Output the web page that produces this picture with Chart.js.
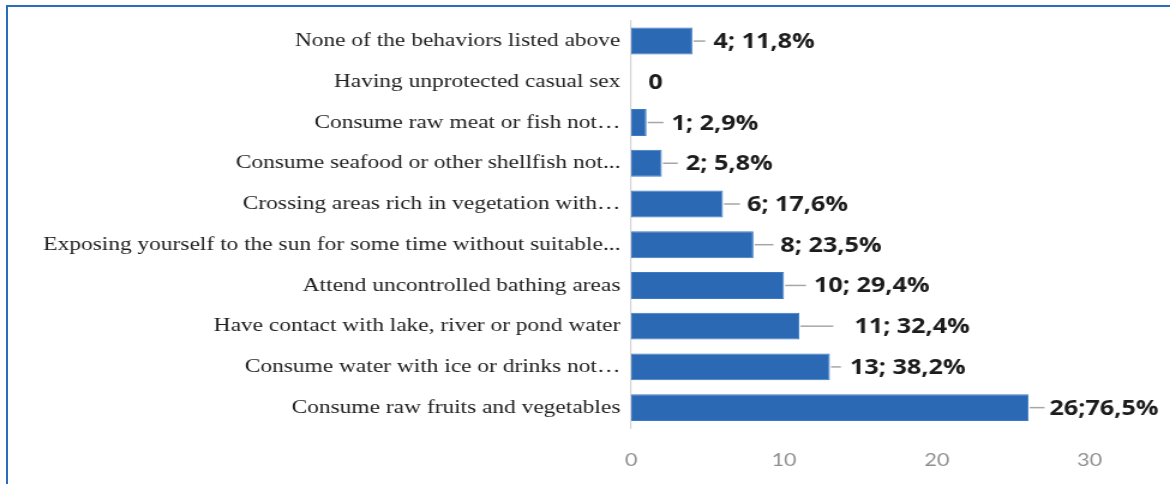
<!DOCTYPE html>
<html>
<head>
<meta charset="utf-8">
<script src="https://cdn.jsdelivr.net/npm/chart.js@4"></script>
<style>
  html, body { margin: 0; padding: 0; background: #fff; }
  #wrap { position: relative; width: 1170px; height: 484px; overflow: hidden; }
  #frame {
    position: absolute; left: 6px; top: 5px; right: 0; bottom: 0;
    border-top: 2px solid #2a6db8; border-left: 2px solid #2a6db8;
    pointer-events: none;
  }
  canvas { position: absolute; left: 0; top: 0; }
</style>
</head>
<body>
<div id="wrap">
  <!-- drawn at 975px wide and shown at 1170px, so the text comes out wide -->
  <canvas id="myChart" width="975" height="484" style="width:1170px;height:484px"></canvas>
  <div id="frame"></div>
</div>
<script>
const categories = [
    'None of the behaviors listed above',
    'Having unprotected casual sex',
    'Consume raw meat or fish not\u2026',
    'Consume seafood or other shellfish not...',
    'Crossing areas rich in vegetation with\u2026',
    'Exposing yourself to the sun for some time without suitable...',
    'Attend uncontrolled bathing areas',
    'Have contact with lake, river or pond water',
    'Consume water with ice or drinks not\u2026',
    'Consume raw fruits and vegetables'
];
const counts = [4, 0, 1, 2, 6, 8, 10, 11, 13, 26];
const valueLabels = ['4; 11,8%', '0', '1; 2,9%', '2; 5,8%', '6; 17,6%', '8; 23,5%',
                     '10; 29,4%', '11; 32,4%', '13; 38,2%', '26;76,5%'];
const tickValues = [0, 10, 20, 30];

const STRETCH = 1170 / 975;

// leader line length and label offset, in screen px from the end of each bar
const leaderLen = [13, 0, 17, 16, 17, 20, 22, 34, 11, 16];
const labelGap  = [21, 17, 25, 24, 24, 27, 30, 55, 20, 21];

const valueLabelPlugin = {
    id: 'valueLabels',
    afterDatasetsDraw(chart) {
        const c = chart.ctx;
        const bars = chart.getDatasetMeta(0).data;
        c.save();
        bars.forEach((bar, i) => {
            const xEnd = bar.x, y = bar.y;
            if (leaderLen[i] > 0) {
                c.strokeStyle = '#a6a6a6';
                c.lineWidth = 1.5;
                c.beginPath();
                c.moveTo(xEnd + 1, y);
                c.lineTo(xEnd + leaderLen[i] / STRETCH, y);
                c.stroke();
            }
            c.fillStyle = '#1c1c1c';
            c.font = 'bold 21px "Open Sans"';
            c.textAlign = 'left';
            c.textBaseline = 'middle';
            c.fillText(valueLabels[i], xEnd + labelGap[i] / STRETCH, y + 1);
        });
        c.restore();
    }
};

const ctx = document.getElementById('myChart').getContext('2d');
const myChart = new Chart(ctx, {
    type: 'bar',
    data: {
        labels: categories,
        datasets: [{
            data: counts,
            backgroundColor: '#2b69b4',
            borderColor: '#3d7cc4',
            borderWidth: 1,
            borderSkipped: false,
            barPercentage: 0.66,
            categoryPercentage: 1
        }]
    },
    options: {
        indexAxis: 'y',
        responsive: false,
        animation: false,
        events: [],
        layout: {
            padding: { top: 20, right: 67, left: 0, bottom: 0 }
        },
        scales: {
            x: {
                min: 0,
                max: 30,
                afterBuildTicks(scale) {
                    scale.ticks = tickValues.map(v => ({ value: v }));
                },
                afterFit(scale) { scale.height = 56; },
                grid: { display: false, drawTicks: false },
                border: { display: false },
                ticks: {
                    padding: 21,
                    color: '#909090',
                    font: { family: 'Lato', size: 18 }
                }
            },
            y: {
                afterFit(scale) { scale.width = 526; },
                grid: { display: false, drawTicks: false },
                border: { display: true, color: '#d4d4d4', width: 1.2 },
                ticks: {
                    padding: 9,
                    color: '#1e1e1e',
                    font: { family: 'Liberation Serif', size: 19.5 }
                }
            }
        },
        plugins: {
            legend: { display: false },
            tooltip: { enabled: false }
        }
    },
    plugins: [valueLabelPlugin]
});
</script>
</body>
</html>
